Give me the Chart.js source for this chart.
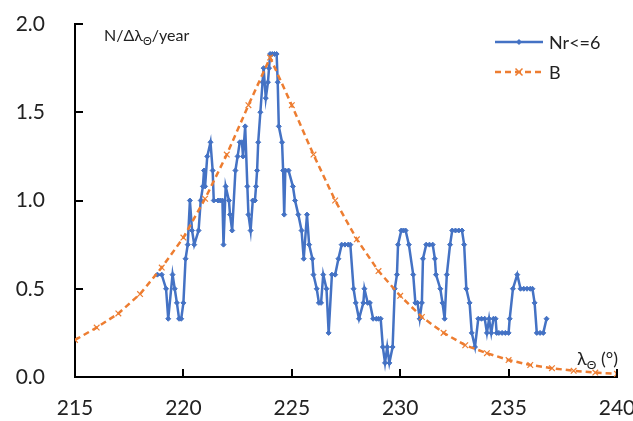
<!DOCTYPE html>
<html>
<head>
<meta charset="utf-8">
<script src="https://cdn.jsdelivr.net/npm/chart.js@4.4.1/dist/chart.umd.min.js"></script>
<style>
  html, body { margin: 0; padding: 0; background: #fff; }
  #wrap { width: 633px; height: 421px; }
</style>
</head>
<body>
<div id="wrap"><canvas id="chart" width="633" height="421"></canvas></div>
<script>
// Nr<=6 : longitude (deg) and rate
const nrX = [
  218.8, 219.0, 219.2, 219.3, 219.5, 219.6, 219.7, 219.8, 219.9, 220.0,
  220.1, 220.2, 220.3, 220.4, 220.5, 220.7, 220.8, 220.9, 220.95, 221.0,
  221.1, 221.25, 221.35, 221.4, 221.6, 221.7, 221.8, 221.85, 221.95, 222.1,
  222.15, 222.25, 222.4, 222.5, 222.6, 222.7, 222.75, 222.85, 222.95, 223.0,
  223.1, 223.2, 223.3, 223.35, 223.4, 223.45, 223.55, 223.65, 223.7, 223.8,
  223.9, 223.95, 224.0, 224.1, 224.2, 224.3, 224.35, 224.4, 224.55, 224.6,
  224.65, 224.7, 224.85, 225.05, 225.15, 225.3, 225.45, 225.55, 225.7, 225.8,
  225.95, 226.0, 226.15, 226.25, 226.35, 226.45, 226.6, 226.7, 226.85, 227.0,
  227.15, 227.3, 227.45, 227.6, 227.7, 227.85, 227.95, 228.1, 228.3, 228.35,
  228.5, 228.6, 228.75, 228.9, 229.0, 229.1, 229.2, 229.3, 229.4, 229.5,
  229.65, 229.75, 229.85, 229.9, 230.05, 230.15, 230.25, 230.4, 230.6, 230.7,
  230.8, 230.9, 231.0, 231.05, 231.2, 231.35, 231.5, 231.6, 231.65, 231.85,
  231.95, 232.05, 232.15, 232.3, 232.4, 232.55, 232.7, 232.85, 232.95, 233.05,
  233.2, 233.3, 233.45, 233.6, 233.75, 233.9, 234.0, 234.1, 234.2, 234.3,
  234.4, 234.45, 234.55, 234.7, 234.85, 235.0, 235.05, 235.2, 235.4, 235.55,
  235.7, 235.85, 236.0, 236.1, 236.2, 236.3, 236.45, 236.6, 236.75
];
const nrY = [
  0.58, 0.58, 0.5, 0.33, 0.58, 0.5, 0.42, 0.33, 0.33, 0.42,
  0.67, 0.75, 1.0, 0.83, 0.75, 0.83, 1.0, 1.08, 1.17, 1.08,
  1.25, 1.33, 1.17, 1.0, 1.0, 1.0, 1.0, 0.75, 1.08, 1.0,
  0.92, 0.83, 1.17, 1.25, 1.33, 1.33, 1.25, 1.42, 1.08, 0.92,
  0.83, 1.0, 1.0, 1.08, 1.17, 1.33, 1.5, 1.67, 1.75, 1.58,
  1.67, 1.75, 1.83, 1.83, 1.83, 1.83, 1.67, 1.42, 1.33, 1.17,
  0.92, 1.17, 1.17, 1.08, 1.0, 0.92, 0.83, 0.67, 0.92, 0.75,
  0.67, 0.58, 0.5, 0.42, 0.42, 0.58, 0.5, 0.25, 0.58, 0.58,
  0.67, 0.75, 0.75, 0.75, 0.75, 0.5, 0.42, 0.33, 0.42, 0.5,
  0.42, 0.42, 0.33, 0.33, 0.33, 0.33, 0.17, 0.08, 0.17, 0.08,
  0.17, 0.5, 0.58, 0.75, 0.83, 0.83, 0.83, 0.75, 0.58, 0.42,
  0.42, 0.33, 0.42, 0.67, 0.75, 0.75, 0.75, 0.67, 0.58, 0.5,
  0.42, 0.33, 0.58, 0.75, 0.83, 0.83, 0.83, 0.83, 0.75, 0.5,
  0.42, 0.25, 0.17, 0.33, 0.33, 0.33, 0.25, 0.33, 0.25, 0.33,
  0.33, 0.25, 0.25, 0.25, 0.25, 0.25, 0.33, 0.5, 0.58, 0.5,
  0.5, 0.5, 0.5, 0.5, 0.42, 0.25, 0.25, 0.25, 0.33
];

// B : fitted curve
const bX = [215, 216, 217, 218, 219, 220, 221, 222, 223, 224, 225, 226, 227,
            228, 229, 230, 231, 232, 233, 234, 235, 236, 237, 238, 239, 240];
const bY = [0.21, 0.28, 0.36, 0.47, 0.62, 0.79, 1.01, 1.26, 1.54, 1.81, 1.54, 1.26, 1.0,
            0.78, 0.6, 0.46, 0.34, 0.25, 0.18, 0.135, 0.096, 0.068, 0.05, 0.035, 0.025, 0.018];

const xTicks = [215, 220, 225, 230, 235, 240];
const yTicks = [0, 0.5, 1.0, 1.5, 2.0];
const seriesNames = ["Nr<=6", "B"];

const BLUE = "#4472C4";
const ORANGE = "#ED7D31";
const FONT = "Lato, 'Open Sans', sans-serif";

// draws inner tick marks, the axis titles and the legend
const extras = {
  id: "extras",
  afterDraw(c) {
    const ctx = c.ctx;
    const xs = c.scales.x;
    const ys = c.scales.y;
    const area = c.chartArea;
    ctx.save();
    ctx.strokeStyle = "#000";
    ctx.lineWidth = 2;
    xTicks.forEach((v) => {
      const px = Math.round(xs.getPixelForValue(v));
      ctx.beginPath();
      ctx.moveTo(px, area.bottom);
      ctx.lineTo(px, area.bottom - 8);
      ctx.stroke();
    });
    yTicks.forEach((v) => {
      const py = Math.round(ys.getPixelForValue(v));
      ctx.beginPath();
      ctx.moveTo(area.left, py);
      ctx.lineTo(area.left + 8, py);
      ctx.stroke();
    });

    ctx.fillStyle = "#222";
    ctx.textBaseline = "alphabetic";
    ctx.textAlign = "left";

    // y title  N/Δλ_Θ/year
    let x = 104, y = 41;
    ctx.font = "16px " + FONT;
    ctx.fillText("N/Δλ", x, y);
    x += ctx.measureText("N/Δλ").width;
    ctx.font = "11px " + FONT;
    ctx.fillText("Θ", x, y + 4);
    x += ctx.measureText("Θ").width;
    ctx.font = "16px " + FONT;
    ctx.fillText("/year", x, y);

    // x title  λ_Θ (°)
    x = 577; y = 365;
    ctx.font = "18px " + FONT;
    ctx.fillText("λ", x, y);
    x += ctx.measureText("λ").width;
    ctx.font = "12px " + FONT;
    ctx.fillText("Θ", x, y + 4);
    x += ctx.measureText("Θ").width;
    ctx.font = "18px " + FONT;
    ctx.fillText(" (°)", x, y);

    // legend
    const lx0 = 495, lx1 = 543;
    const rows = [42, 72];
    c.data.datasets.forEach((ds, i) => {
      const ly = rows[i];
      ctx.strokeStyle = ds.borderColor;
      ctx.lineWidth = 2.5;
      ctx.setLineDash(ds.borderDash || []);
      ctx.beginPath();
      ctx.moveTo(lx0, ly);
      ctx.lineTo(lx1, ly);
      ctx.stroke();
      ctx.setLineDash([]);
      const mx = (lx0 + lx1) / 2;
      ctx.lineWidth = 1.5;
      if (ds.pointStyle === "crossRot") {
        ctx.beginPath();
        ctx.moveTo(mx - 3.5, ly - 3.5); ctx.lineTo(mx + 3.5, ly + 3.5);
        ctx.moveTo(mx + 3.5, ly - 3.5); ctx.lineTo(mx - 3.5, ly + 3.5);
        ctx.stroke();
      } else {
        ctx.fillStyle = ds.borderColor;
        ctx.beginPath();
        ctx.moveTo(mx, ly - 3); ctx.lineTo(mx + 3, ly);
        ctx.lineTo(mx, ly + 3); ctx.lineTo(mx - 3, ly);
        ctx.closePath();
        ctx.fill();
      }
      ctx.fillStyle = "#222";
      ctx.font = "18px " + FONT;
      ctx.textBaseline = "middle";
      ctx.fillText(ds.label, 549, ly + 1);
    });
    ctx.restore();
  },
};

const ctx = document.getElementById("chart").getContext("2d");
new Chart(ctx, {
  type: "scatter",
  data: {
    datasets: [
      {
        label: seriesNames[0],
        data: nrX.map((v, i) => ({ x: v, y: nrY[i] })),
        showLine: true,
        borderColor: BLUE,
        backgroundColor: BLUE,
        borderWidth: 2.5,
        pointStyle: "rectRot",
        pointRadius: 2.5,
        pointBorderWidth: 1,
        tension: 0,
        order: 2,
      },
      {
        label: seriesNames[1],
        data: bX.map((v, i) => ({ x: v, y: bY[i] })),
        showLine: true,
        borderColor: ORANGE,
        backgroundColor: ORANGE,
        borderWidth: 2.5,
        borderDash: [6, 4],
        pointStyle: "crossRot",
        pointRadius: 4,
        pointBorderWidth: 1.2,
        tension: 0,
        order: 1,
      },
    ],
  },
  options: {
    responsive: false,
    animation: false,
    layout: { padding: { top: 24, right: 16, left: 0, bottom: 0 } },
    plugins: {
      legend: { display: false },
      tooltip: { enabled: false },
    },
    scales: {
      x: {
        type: "linear",
        min: 215,
        max: 240,
        afterFit: (s) => {
          s.height = 44;
          s.paddingLeft = 0;
          s.paddingRight = 0;
        },
        afterBuildTicks: (s) => { s.ticks = xTicks.map((v) => ({ value: v })); },
        ticks: { font: { family: FONT, size: 21 }, color: "#222", padding: 19 },
        grid: { display: false, drawTicks: false },
        border: { display: true, color: "#000", width: 2 },
      },
      y: {
        min: 0,
        max: 2,
        afterFit: (s) => {
          s.width = 75;
          s.paddingTop = 0;
          s.paddingBottom = 0;
        },
        afterBuildTicks: (s) => { s.ticks = yTicks.map((v) => ({ value: v })); },
        ticks: {
          font: { family: FONT, size: 21 },
          color: "#222",
          padding: 30,
          callback: (v) => v.toFixed(1),
        },
        grid: { display: false, drawTicks: false },
        border: { display: true, color: "#000", width: 2 },
      },
    },
  },
  plugins: [extras],
});
</script>
</body>
</html>
